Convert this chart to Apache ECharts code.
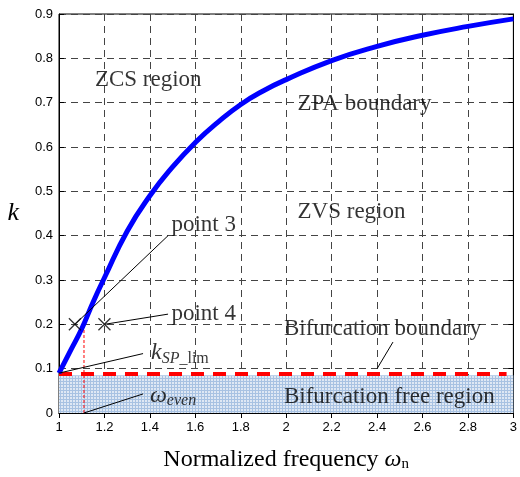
<!DOCTYPE html>
<html>
<head>
<meta charset="utf-8">
<script src="https://cdn.jsdelivr.net/npm/echarts@6/dist/echarts.min.js"></script>
<style>
  html, body { margin: 0; padding: 0; background: #fff; }
  #echarts-box { width: 520px; height: 477px; }
</style>
</head>
<body>
<div id="echarts-box"></div>
<script>
// ZPA boundary curve
var freq = [1.0, 1.05, 1.1, 1.15, 1.2, 1.3, 1.4, 1.5, 1.6, 1.7, 1.8, 1.9, 2.0, 2.2, 2.4, 2.6, 2.8, 3.0];
var kZpa = [0.09, 0.14, 0.19, 0.25, 0.305, 0.41, 0.49, 0.555, 0.61, 0.656, 0.696, 0.727, 0.752, 0.795, 0.827, 0.852, 0.872, 0.889];

// bifurcation boundary (red dashed) and free region
var bifX = [1.0, 2.97];
var bifK = [0.088, 0.088];
var freeTop = 0.085;

// marked points
var crossPts = [[1.07, 0.2], [1.2, 0.2]];
var evenLine = [[1.11, 0], [1.11, 0.2]];

// leader lines
var leaders = [
    [[1.07, 0.2], [1.48, 0.4]],
    [[1.2, 0.2], [1.48, 0.223]],
    [[1.0, 0.09], [1.37, 0.134]],
    [[1.11, 0], [1.37, 0.043]],
    [[2.4, 0.1], [2.47, 0.16]]
];

// text labels [x, k, text]
var notes = [
    [1.158, 0.752, "ZCS region"],
    [2.05, 0.698, "ZPA boundary"],
    [2.05, 0.454, "ZVS region"],
    [1.495, 0.425, "point 3"],
    [1.495, 0.223, "point 4"],
    [1.99, 0.19, "Bifurcation boundary"],
    [1.99, 0.036, "Bifurcation free region"]
];
var ksp = [1.405, 0.136];
var wEven = [1.4, 0.04];

var serif = "Liberation Serif";
var sans = "Liberation Sans";

// little blue grid pattern for the free region
var pat = document.createElement("canvas");
pat.width = 3; pat.height = 3;
var pc = pat.getContext("2d");
pc.fillStyle = "#dfe8f4";
pc.fillRect(0, 0, 3, 3);
pc.fillStyle = "#a8c2e2";
pc.fillRect(0, 0, 3, 1);
pc.fillRect(0, 0, 1, 3);

var myChart = echarts.init(document.getElementById("echarts-box"));

var gridLine = { show: true, lineStyle: { color: "#444", type: [7, 5], width: 1 } };
var tick = { inside: true, length: 5, lineStyle: { color: "#000" } };

var series = [
    {
        type: "line",
        data: [[1, freeTop], [3, freeTop]],
        symbol: "none",
        lineStyle: { width: 0 },
        areaStyle: { color: { image: pat, repeat: "repeat" }, opacity: 1 },
        silent: true,
        z: 1
    },
    {
        type: "line",
        data: bifX.map(function (x, i) { return [x, bifK[i]]; }),
        symbol: "none",
        lineStyle: { color: "#ff0000", width: 4, type: [13, 9] },
        z: 3
    },
    {
        type: "line",
        data: evenLine,
        symbol: "none",
        lineStyle: { color: "#ff0000", width: 1, type: [3, 2] },
        z: 3
    },
    {
        type: "line",
        data: freq.map(function (x, i) { return [x, kZpa[i]]; }),
        symbol: "none",
        smooth: 0.5,
        lineStyle: { color: "#0000ff", width: 5 },
        z: 4
    },
    {
        type: "scatter",
        data: crossPts,
        symbol: "path://M0,0L10,10M10,0L0,10",
        symbolSize: 12,
        itemStyle: { color: "none", borderColor: "#000", borderWidth: 1.3 },
        z: 5
    }
];

leaders.forEach(function (seg) {
    series.push({
        type: "line",
        data: seg,
        symbol: "none",
        lineStyle: { color: "#000", width: 1 },
        z: 5
    });
});

series.push({
    type: "scatter",
    data: notes.map(function (n) { return { value: [n[0], n[1]], name: n[2] }; }),
    symbolSize: 0,
    label: {
        show: true,
        position: "right",
        distance: 0,
        formatter: "{b}",
        fontFamily: serif,
        fontSize: 23,
        color: "#000"
    },
    z: 6
});

series.push({
    type: "scatter",
    data: [
        { value: ksp, name: "{k|k}{s|SP_}{u|lim}" },
        { value: wEven, name: "{k|ω}{s|even}" }
    ],
    symbolSize: 0,
    label: {
        show: true,
        position: "right",
        distance: 0,
        formatter: "{b}",
        color: "#000",
        rich: {
            k: { fontFamily: serif, fontStyle: "italic", fontSize: 24, color: "#000" },
            s: { fontFamily: serif, fontStyle: "italic", fontSize: 16, color: "#000", padding: [12, 0, 0, 0] },
            u: { fontFamily: serif, fontSize: 16, color: "#000", padding: [12, 0, 0, 0] }
        }
    },
    z: 6
});

var option = {
    animation: false,
    grid: { left: 59, right: 3, top: 14, bottom: 59, show: true, borderColor: "#000", borderWidth: 1, backgroundColor: "#fff" },
    xAxis: [
        {
            type: "value", min: 1, max: 3, interval: 0.2,
            name: "{a|Normalized frequency }{w|ω}{n|n}",
            nameLocation: "middle", nameGap: 34,
            nameTextStyle: {
                rich: {
                    a: { fontFamily: serif, fontSize: 24, color: "#000" },
                    w: { fontFamily: serif, fontSize: 24, fontStyle: "italic", color: "#000" },
                    n: { fontFamily: serif, fontSize: 15, color: "#000", padding: [10, 0, 0, 0] }
                }
            },
            axisLine: { show: true, lineStyle: { color: "#000" } },
            axisTick: tick,
            axisLabel: { fontFamily: sans, fontSize: 13, color: "#000", margin: 8 },
            splitLine: gridLine
        },
        {
            type: "value", min: 1, max: 3, interval: 0.2, position: "top",
            axisLine: { show: true, lineStyle: { color: "#000" } },
            axisTick: tick, axisLabel: { show: false }, splitLine: { show: false }
        }
    ],
    yAxis: [
        {
            type: "value", min: 0, max: 0.9, interval: 0.1,
            name: "k", nameLocation: "middle", nameGap: 40, nameRotate: 0,
            nameTextStyle: { fontFamily: serif, fontStyle: "italic", fontSize: 26, color: "#000" },
            axisLine: { show: true, lineStyle: { color: "#000" } },
            axisTick: tick,
            axisLabel: { fontFamily: sans, fontSize: 13, color: "#000", margin: 6 },
            splitLine: gridLine
        },
        {
            type: "value", min: 0, max: 0.9, interval: 0.1, position: "right",
            axisLine: { show: true, lineStyle: { color: "#000" } },
            axisTick: tick, axisLabel: { show: false }, splitLine: { show: false }
        }
    ],
    series: series
};

myChart.setOption(option);
</script>
</body>
</html>
